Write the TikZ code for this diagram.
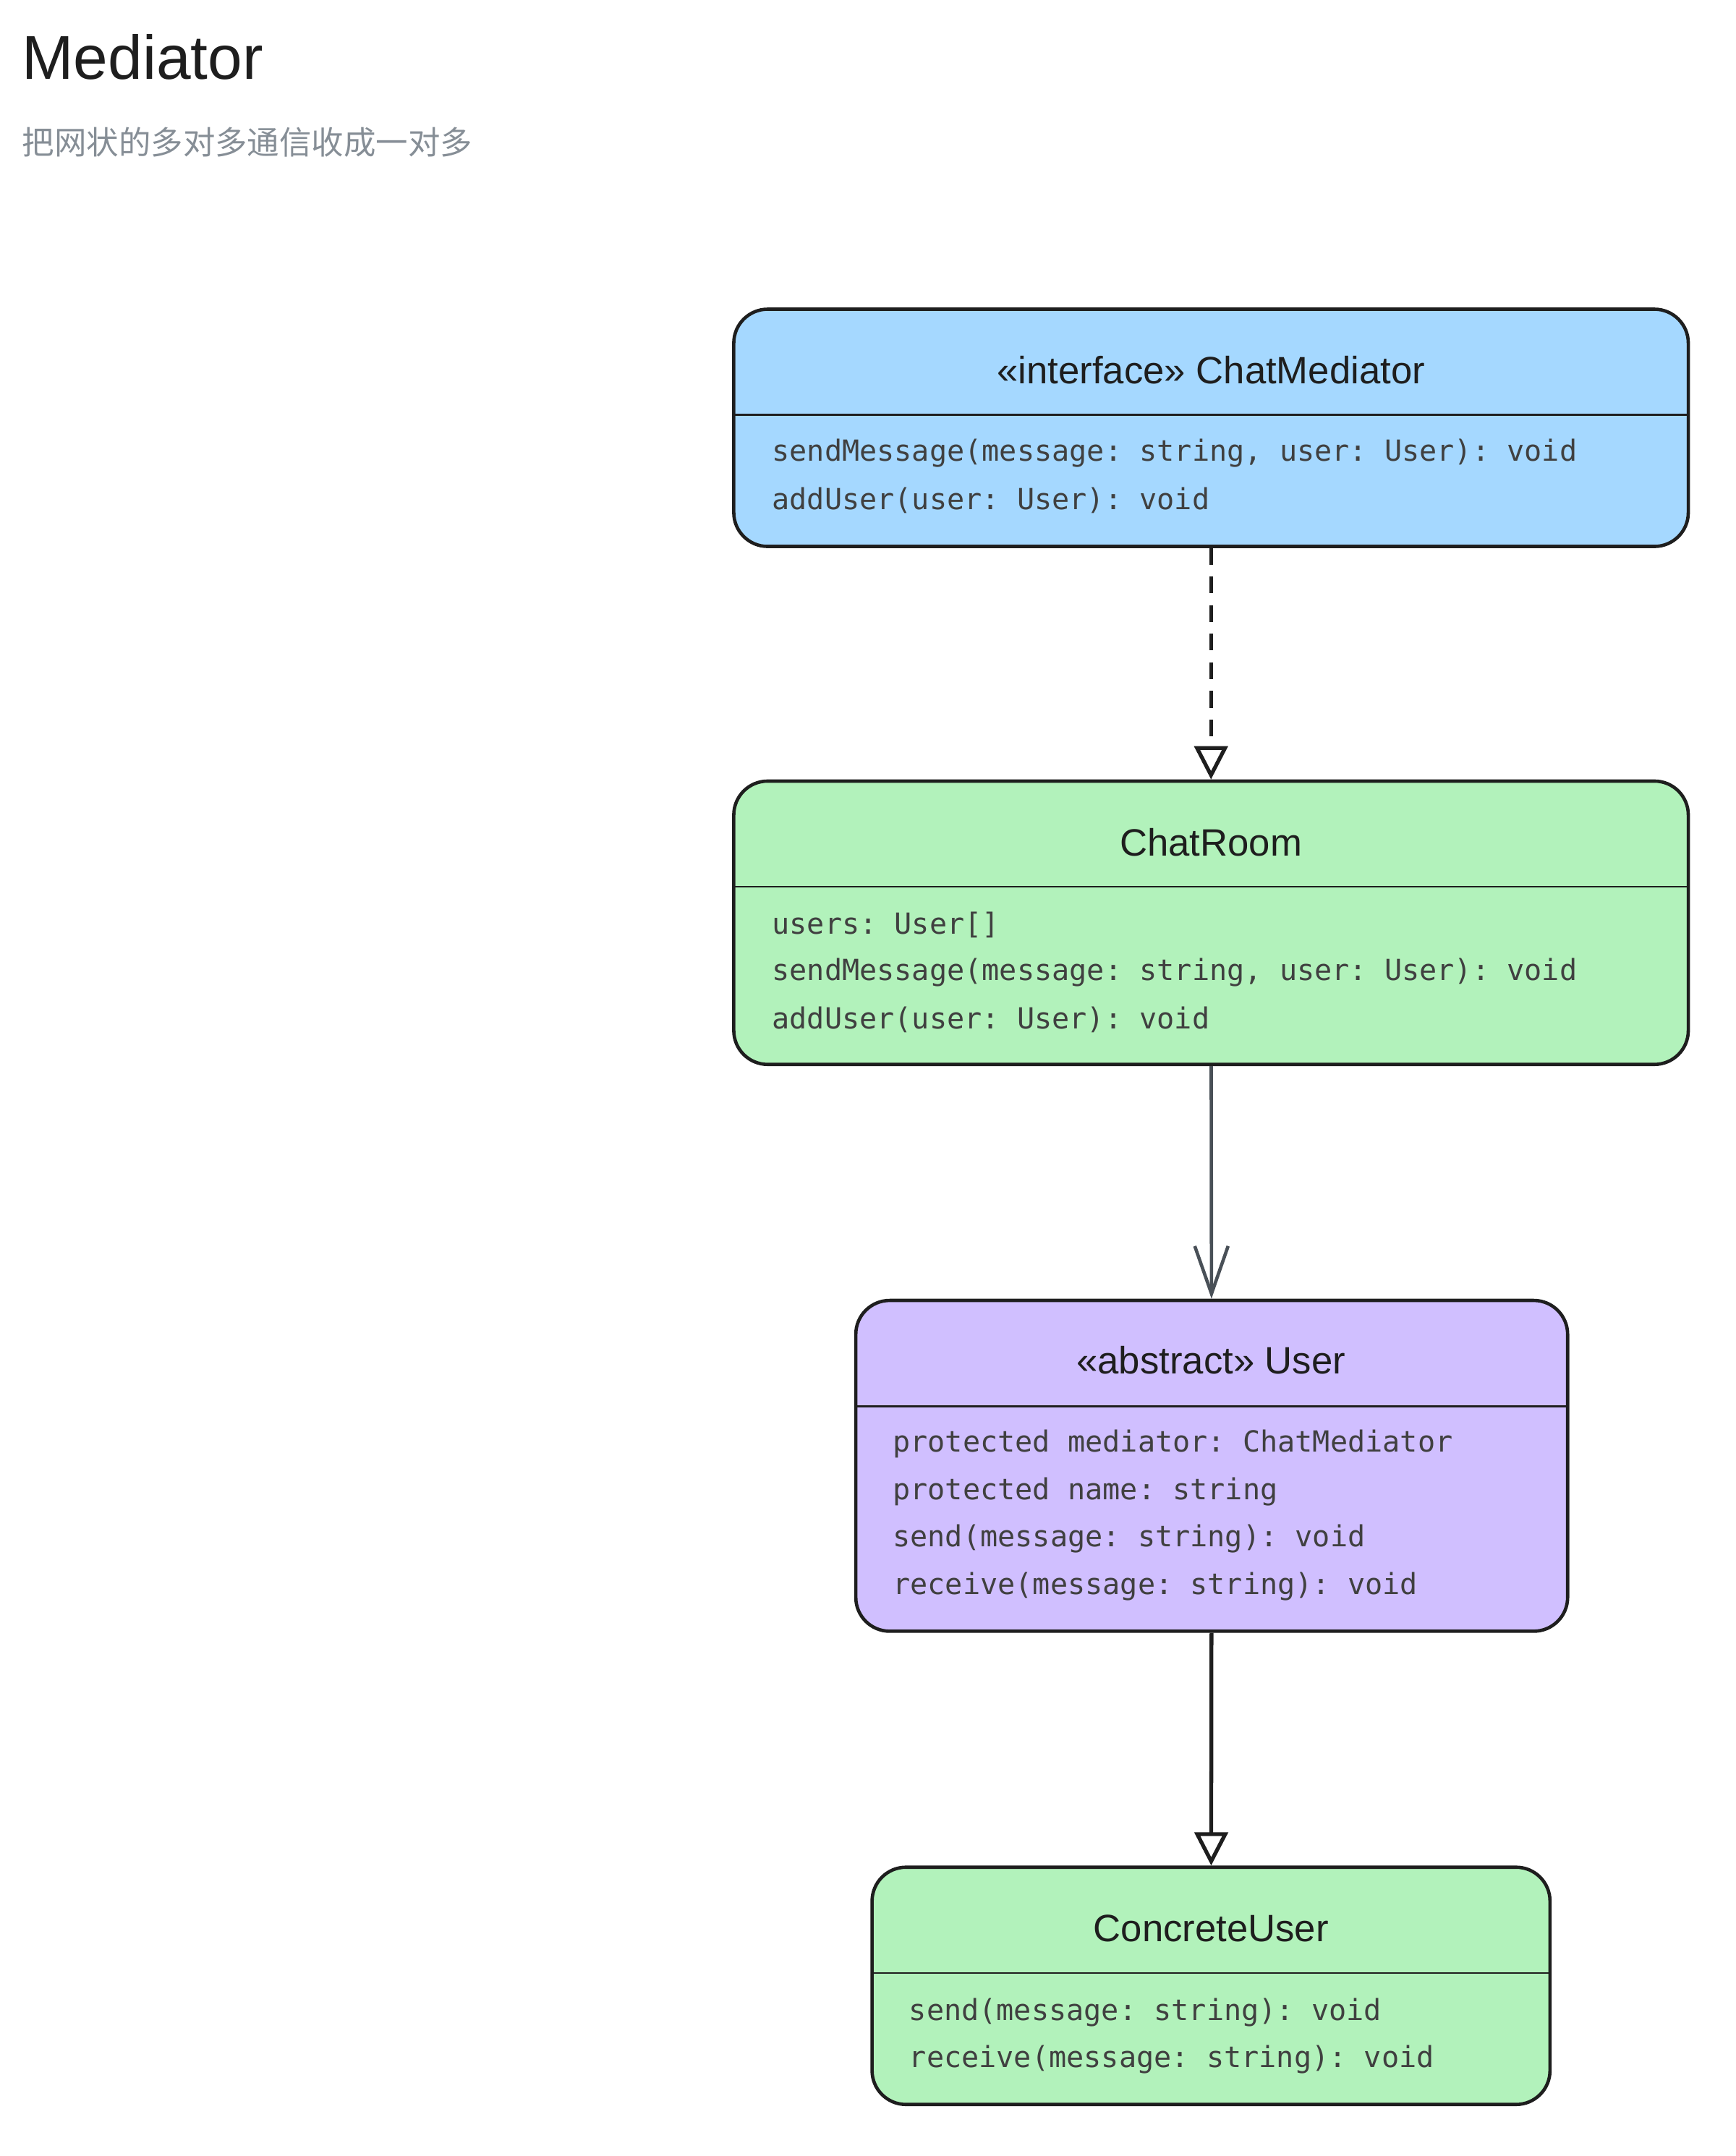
\documentclass[tikz,border=0pt]{standalone}
\usepackage{fontspec}
\setmainfont{Liberation Sans}
\setmonofont{DejaVu Sans Mono}
\newfontfamily\cjk{Noto Sans CJK SC}
\usetikzlibrary{arrows.meta,positioning}
\definecolor{ifblue}{HTML}{A5D8FF}
\definecolor{clgreen}{HTML}{B2F2BB}
\definecolor{abpurple}{HTML}{D0BFFF}
\definecolor{subgray}{HTML}{868E96}
\definecolor{ink}{HTML}{1E1E1E}
\definecolor{lineslate}{HTML}{495057}

\begin{document}
\begin{tikzpicture}[x=0.02cm,y=-0.02cm,
    classbox/.style ={rectangle, draw=ink, line width=1.4pt, rounded corners=0.5cm, inner sep=0pt},
    classname/.style ={font=\fontsize{16}{18}\selectfont, text=ink},
    member/.style ={font=\ttfamily\fontsize{12.2}{14}\selectfont, text=ink!85, anchor=west, inner sep=0pt}]
   \useasboundingbox (0,0) rectangle (1280,1590);

   \node[anchor=west,inner sep=0pt,font=\fontsize{26}{30}\selectfont,text=ink] (title) at (16,42) {Mediator};
   \node[anchor=west,inner sep=0pt,font=\cjk\fontsize{13.5}{16}\selectfont,text=subgray] (subtitle) at (16,105) {把网状的多对多通信收成一对多};

   % ChatMediator
   \node[classbox,fill=ifblue,minimum width=14.08cm,minimum height=3.5cm] (mediator) at (893,315.5) {};
   \draw[ink,line width=0.8pt] (541,306) -- (1245,306);
   \node[classname] (mediatorname) at (893,273) {«interface» ChatMediator};
   \node[member] (m1) at (569,334) {sendMessage(message: string, user: User): void};
   \node[member] (m2) at (569,369) {addUser(user: User): void};

   % ChatRoom
   \node[classbox,fill=clgreen,minimum width=14.08cm,minimum height=4.18cm] (room) at (893,680.5) {};
   \draw[ink,line width=0.8pt] (541,654) -- (1245,654);
   \node[classname] (roomname) at (893,621) {ChatRoom};
   \node[member] (r1) at (569,682) {users: User[]};
   \node[member] (r2) at (569,717) {sendMessage(message: string, user: User): void};
   \node[member] (r3) at (569,752) {addUser(user: User): void};

   % User
   \node[classbox,fill=abpurple,minimum width=10.5cm,minimum height=4.88cm] (user) at (893.5,1081) {};
   \draw[ink,line width=0.8pt] (631,1037) -- (1156,1037);
   \node[classname] (username) at (893,1003) {«abstract» User};
   \node[member] (u1) at (658,1065) {protected mediator: ChatMediator};
   \node[member] (u2) at (658,1100) {protected name: string};
   \node[member] (u3) at (658,1135) {send(message: string): void};
   \node[member] (u4) at (658,1170) {receive(message: string): void};

   % ConcreteUser
   \node[classbox,fill=clgreen,minimum width=10cm,minimum height=3.5cm] (concrete) at (893,1464.5) {};
   \draw[ink,line width=0.8pt] (643,1455) -- (1143,1455);
   \node[classname] (concretename) at (893,1422) {ConcreteUser};
   \node[member] (c1) at (670,1484) {send(message: string): void};
   \node[member] (c2) at (670,1519) {receive(message: string): void};

   \draw[ink,line width=1.6pt,dash pattern=on 7pt off 5pt,-{Triangle[open,length=14pt,width=14pt,line width=1.6pt]}] (mediator) -- (room);
   \draw[lineslate,line width=1.4pt,-{Straight Barb[length=20pt,width=14pt,line width=1.4pt]}] (room) -- (user);
   \draw[ink,line width=1.6pt,-{Triangle[open,length=14pt,width=14pt,line width=1.6pt]}] (user) -- (concrete);
\end{tikzpicture}
\end{document}
